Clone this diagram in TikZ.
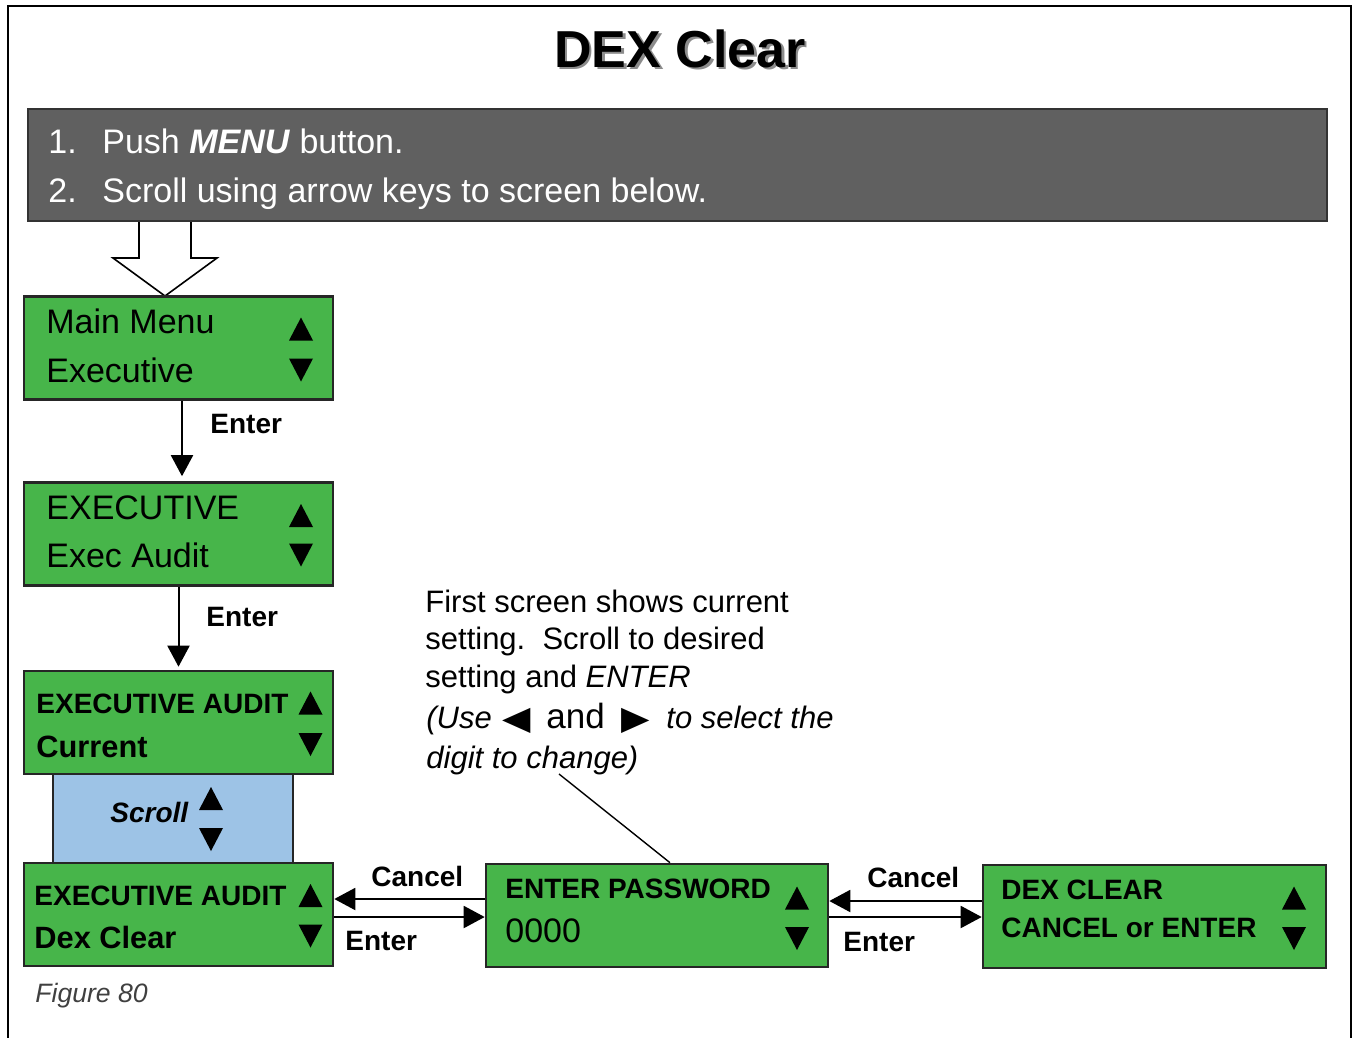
\documentclass[tikz,border=0pt]{standalone}
\usepackage{fontspec}
\setmainfont{Liberation Sans}
\newfontfamily\djv{DejaVu Sans}
\usetikzlibrary{arrows.meta,calc}
\definecolor{boxgreen}{RGB}{71,181,74}
\definecolor{scrollblue}{RGB}{157,195,230}
\definecolor{panelgray}{RGB}{96,96,96}
\begin{document}
\begin{tikzpicture}[x=0.5pt,y=-0.5pt,
  screen/.style={rectangle, draw=black!85, line width=1.3pt, fill=boxgreen, inner sep=0pt},
  sbox/.style={screen, minimum width=154.5pt, minimum height=51.5pt},
  txt/.style={anchor=base west, inner sep=0pt},
  big/.style={font=\fontsize{17}{20}\selectfont},
  bld/.style={font=\fontsize{14}{17}\selectfont\bfseries},
  bldb/.style={font=\fontsize{15.4}{18}\selectfont\bfseries},
  note/.style={font=\fontsize{15.5}{19}\selectfont},
  arr/.style={line width=1pt, -{Triangle[length=10.5pt,width=11pt]}},
  uptri/.pic={\fill (-12,11.5) -- (12,11.5) -- (0,-11.5) -- cycle;},
  dntri/.pic={\fill (-12,-11.5) -- (12,-11.5) -- (0,11.5) -- cycle;}
]
\useasboundingbox (0,0) rectangle (1354,1038);
% frame
\draw[line width=1pt] (8,1038) -- (8,6) -- (1351,6) -- (1351,1038);
% title
\node[anchor=base, inner sep=0pt, text=black!45, font=\fontsize{26}{30}\selectfont\bfseries] (titleshadow) at (682.5,70) {DEX Clear};
\node[anchor=base, inner sep=0pt, font=\fontsize{26}{30}\selectfont\bfseries] (title) at (680,68) {DEX Clear};
% instructions panel
\node[rectangle, draw=black!80, line width=1.2pt, fill=panelgray, minimum width=649.5pt, minimum height=56pt] (panel) at (677.5,165) {};
\node[txt, big, text=white] (i1n) at (48,154) {1.};
\node[txt, big, text=white] (i1) at (102,154) {Push \textbf{\textit{MENU}} button.};
\node[txt, big, text=white] (i2n) at (48,202) {2.};
\node[txt, big, text=white] (i2) at (102,202) {Scroll using arrow keys to screen below.};
% hollow arrow
\draw[line width=0.8pt, fill=white] (139,222) -- (139,258) -- (113,258) -- (165,296) -- (217,258) -- (191,258) -- (191,222);
% screens
\node[sbox] (b1) at (178.5,348) {};
\node[txt, big] (b1a) at (46,333) {Main Menu};
\node[txt, big] (b1b) at (46,382) {Executive};
\pic at (301,329) {uptri}; \pic at (301,370) {dntri};

\node[sbox] (b2) at (178.5,534) {};
\node[txt, big] (b2a) at (46,519) {EXECUTIVE};
\node[txt, big] (b2b) at (46,567) {Exec Audit};
\pic at (301,515.5) {uptri}; \pic at (301,555) {dntri};

\node[rectangle, draw=black!85, line width=1.3pt, fill=scrollblue, minimum width=120pt, minimum height=44.5pt] (scroll) at (173,818.5) {};
\node[txt, font=\fontsize{14}{17}\selectfont\bfseries\itshape] (scrollt) at (110,822) {Scroll};
\pic at (211,798.5) {uptri}; \pic at (211,839.5) {dntri};

\node[sbox] (b3) at (178.5,722.5) {};
\node[txt, bld] (b3a) at (36,713) {EXECUTIVE AUDIT};
\node[txt, bldb] (b3b) at (36,757) {Current};
\pic at (310.5,703) {uptri}; \pic at (310.5,744.5) {dntri};

\node[sbox] (b4) at (178.5,914.5) {};
\node[txt, bld] (b4a) at (34,905) {EXECUTIVE AUDIT};
\node[txt, bldb] (b4b) at (34,948) {Dex Clear};
\pic at (310.5,895.5) {uptri}; \pic at (310.5,936) {dntri};

\node[screen, minimum width=171pt, minimum height=51.5pt] (b5) at (657,915.5) {};
\node[txt, bld] (b5a) at (505,898) {ENTER PASSWORD};
\node[txt, big] (b5b) at (505,942) {0000};
\pic at (797,898) {uptri}; \pic at (797,938.5) {dntri};

\node[screen, minimum width=171.5pt, minimum height=51.5pt] (b6) at (1154.5,916.5) {};
\node[txt, bld] (b6a) at (1001,899) {DEX CLEAR};
\node[txt, bld] (b6b) at (1001,937) {CANCEL or ENTER};
\pic at (1294,898) {uptri}; \pic at (1294,938.5) {dntri};

% connectors
\draw[arr, shorten >=2.5pt] ($(b1.south)+(3.5,0)$) -- ($(b2.north)+(3.5,0)$);
\node[txt, bld] (e1) at (210,433) {Enter};
\draw[arr, shorten >=1.5pt] (b2.south) -- (b3.north);
\node[txt, bld] (e2) at (206,626) {Enter};

\draw[arr] (b5.west |- 0,899) -- (b4.east |- 0,899);
\draw[arr] (b4.east |- 0,917) -- (b5.west |- 0,917);
\node[txt, bld] (c1) at (371,886) {Cancel};
\node[txt, bld] (e3) at (345,950) {Enter};

\draw[arr] (b6.west |- 0,901) -- (b5.east |- 0,901);
\draw[arr] (b5.east |- 0,917) -- (b6.west |- 0,917);
\node[txt, bld] (c2) at (867,887) {Cancel};
\node[txt, bld] (e4) at (843,951) {Enter};

% note
\node[txt, note] (n1) at (425,612) {First screen shows current};
\node[txt, note] (n2) at (425,649) {setting.\ \ Scroll to desired};
\node[txt, note] (n3) at (425,687) {setting and \textit{ENTER}};
\node[txt, note, font=\fontsize{15.5}{19}\selectfont\itshape] (n4a) at (426,728) {(Use};
\node[txt, font=\fontsize{16.5}{19}\selectfont\djv, xscale=1.12] (n4l) at (502,729) {◀};
\node[txt, font=\fontsize{17.5}{20}\selectfont] (n4b) at (546,728) {and};
\node[txt, font=\fontsize{16.5}{19}\selectfont\djv, xscale=1.12] (n4r) at (621,729) {▶};
\node[txt, note, font=\fontsize{15.5}{19}\selectfont\itshape] (n4c) at (666,728) {to select the};
\node[txt, note, font=\fontsize{15.5}{19}\selectfont\itshape] (n5) at (426,768) {digit to change)};
\coordinate (nfoot) at (559,774);
\draw[line width=0.7pt] (nfoot) -- (b5.north -| 670,0);

\node[txt, text=black!75, font=\fontsize{13.3}{16}\selectfont\itshape] (fig) at (35,1002) {Figure 80};
\end{tikzpicture}
\end{document}
